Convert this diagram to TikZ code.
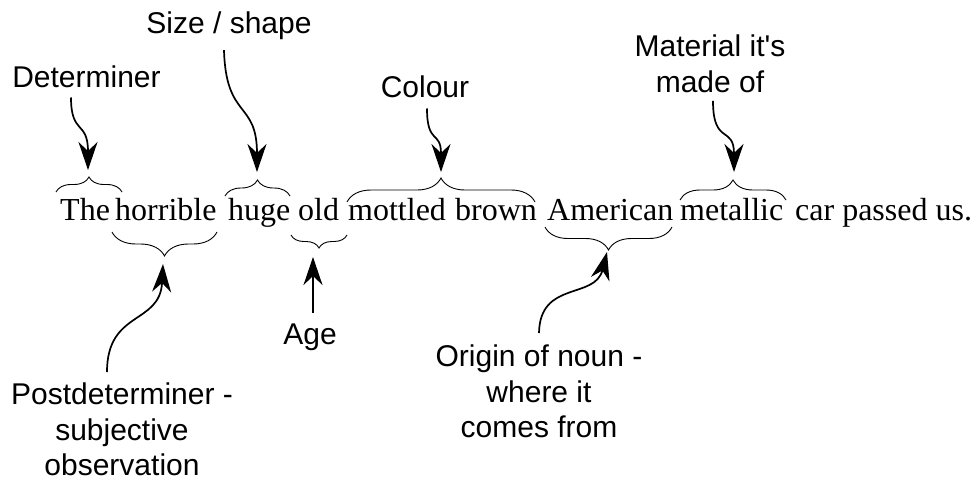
\documentclass[tikz,border=0pt]{standalone}
\usepackage{fontspec}
\setmainfont{Liberation Serif}
\newfontfamily\labelfont[Ligatures=TeXOff]{Liberation Sans}
\usetikzlibrary{decorations.pathreplacing,arrows.meta}
\begin{document}
\begin{tikzpicture}[x=1pt,y=-1pt,
  word/.style={inner sep=0pt, anchor=base west, font=\fontsize{32}{38}\selectfont},
  lbl/.style={inner sep=0pt, align=center, font=\labelfont\fontsize{30}{35.5}\selectfont},
  bracebox/.style={decorate, decoration={brace, amplitude=#1}, line width=0.9pt},
  arr/.style={-{Stealth[length=28pt,width=19pt,inset=9pt]}, line width=1.7pt},
]
\useasboundingbox (0,0) rectangle (979,483);
% sentence
\node[word] (wThe) at (60,220) {The};
\node[word] (wHorrible) at (115,220) {horrible};
\node[word] (wHuge) at (228,220) {huge};
\node[word] (wOld) at (298,220) {old};
\node[word] (wMottled) at (348,220) {mottled};
\node[word] (wBrown) at (455,220) {brown};
\node[word] (wAmerican) at (547,220) {American};
\node[word] (wMetallic) at (680,220) {metallic};
\node[word] (wRest) at (795,220) {car passed us.};
% braces above
\draw[bracebox=15] (56,192) -- (122,192);
\draw[bracebox=16] (225,196) -- (290,196);
\draw[bracebox=24] (347,202) -- (535,202);
\draw[bracebox=20] (680,200) -- (786,200);
% braces below
\draw[bracebox=24] (217,232) -- (112,232);
\draw[bracebox=13] (347,235) -- (291,235);
\draw[bracebox=23] (672,227) -- (545,227);
% arrow end points (brace tips)
\coordinate (tDet) at (88,170);
\coordinate (tSize) at (257,172);
\coordinate (tColour) at (441,172);
\coordinate (tMat) at (734,172);
\coordinate (tPost) at (163,264);
\coordinate (tAge) at (313,257);
\coordinate (tOrigin) at (607,252);
% labels
\node[lbl, anchor=base] (det) at (86.5,87) {Determiner};
\node[lbl, anchor=base] (size) at (229,33) {Size / shape};
\node[lbl, anchor=base] (colour) at (425,97) {Colour};
\node[lbl, anchor=north] (material) at (710,35) {Material it's\\made of};
\node[lbl, anchor=north] (postdet) at (122,383) {Postdeterminer -\\subjective\\observation};
\node[lbl, anchor=base] (age) at (310,344) {Age};
\node[lbl, anchor=north] (origin) at (539,345) {Origin of noun -\\where it\\comes from};
% arrows
\draw[arr] ([shift={(-15.5,10)}]det.south) .. controls +(0,38) and +(0,-50) .. (tDet);
\draw[arr] ([shift={(-5,10.7)}]size.south) .. controls +(2,70) and +(0,-72) .. (tSize);
\draw[arr] ([shift={(2,11)}]colour.south) .. controls +(0,37) and +(0,-42) .. (tColour);
\draw[arr] ([shift={(3,8)}]material.south) .. controls +(0,45) and +(0,-47) .. (tMat);
\draw[arr] ([shift={(-15,-11)}]postdet.north) .. controls +(0,-62) and +(-3,61) .. (tPost);
\draw[arr] ([shift={(3,-10.5)}]age.north) -- (tAge);
\draw[arr] ([shift={(0,-12)}]origin.north) .. controls +(1,-53) and +(-12,48) .. (tOrigin);
\end{tikzpicture}
\end{document}
